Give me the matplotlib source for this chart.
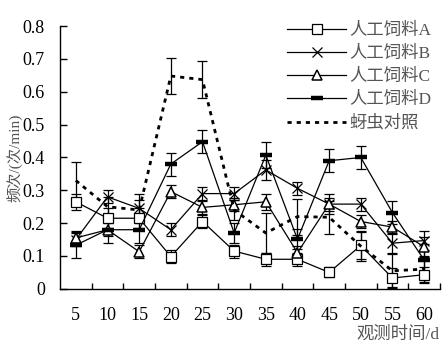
import matplotlib
matplotlib.use("Agg")
import matplotlib.pyplot as plt

plt.rcParams['font.family'] = ['Liberation Serif', 'Noto Sans CJK SC']

days = [5, 10, 15, 20, 25, 30, 35, 40, 45, 50, 55, 60]

feed_a = [0.265, 0.215, 0.215, 0.098, 0.205, 0.115, 0.09, 0.09, 0.05, 0.132, 0.033, 0.043]
feed_a_err = [0.025, 0.03, 0.03, 0.02, 0.02, 0.02, 0.02, 0.02, 0.015, 0.04, 0.03, 0.025]

feed_b = [0.15, 0.28, 0.245, 0.18, 0.29, 0.29, 0.362, 0.306, 0.258, 0.258, 0.139, 0.147]
feed_b_err = [0.02, 0.02, 0.045, 0.02, 0.02, 0.02, 0.03, 0.02, 0.03, 0.02, 0.03, 0.03]

feed_c = [0.155, 0.18, 0.113, 0.296, 0.248, 0.256, 0.265, 0.11, 0.258, 0.205, 0.188, 0.128]
feed_c_err = [0.02, 0.02, 0.02, 0.02, 0.02, 0.02, 0.025, 0.02, 0.02, 0.02, 0.02, 0.03]

feed_d = [0.133, 0.18, 0.18, 0.38, 0.448, 0.17, 0.407, 0.151, 0.39, 0.40, 0.232, 0.088]
feed_d_err = [0.04, 0.04, 0.04, 0.035, 0.035, 0.03, 0.04, 0.03, 0.035, 0.035, 0.035, 0.05]

control = [0.33, 0.25, 0.24, 0.648, 0.637, 0.24, 0.17, 0.22, 0.218, 0.13, 0.055, 0.06]
control_err = [0.055, 0.03, 0.03, 0.055, 0.057, 0.03, 0.06, 0.055, 0.05, 0.045, 0.05, 0.04]

labels = ["人工饲料A", "人工饲料B", "人工饲料C", "人工饲料D", "蚜虫对照"]

fig = plt.figure(figsize=(4.48, 3.48), dpi=100)
ax = fig.add_axes([0.134, 0.170, 0.848, 0.755])

# error bars first, without lines
for vals, errs in [(feed_a, feed_a_err), (feed_b, feed_b_err), (feed_c, feed_c_err),
                   (feed_d, feed_d_err), (control, control_err)]:
    ax.errorbar(days, vals, yerr=errs, fmt="none", ecolor="black",
                elinewidth=0.9, capsize=3.8, capthick=0.9)

ax.plot(days, feed_a, color="black", lw=0.9, marker="s", ms=7,
        mfc="white", mec="black", mew=0.9, label=labels[0])
ax.plot(days, feed_b, color="black", lw=0.9, marker="x", ms=7.5,
        mew=0.9, label=labels[1])
ax.plot(days, feed_c, color="black", lw=0.9, marker="^", ms=7,
        mfc="white", mec="black", mew=1.1, label=labels[2])
ax.plot(days, feed_d, color="black", lw=0.9, marker="_", ms=8,
        mew=3.2, label=labels[3])
ax.plot(days, control, color="black", lw=2, ls=(0, (1.5, 1.8)), label=labels[4])

ax.set_xlim(2.5, 62.5)
ax.set_ylim(0, 0.8)
ax.set_xticks(days)
ax.set_xticks([d + 2.5 for d in days], minor=True)
ax.tick_params(axis="x", which="major", length=0, pad=13, labelsize=13)
ax.tick_params(axis="x", which="minor", direction="in", length=4, width=1)
ax.set_yticks([i / 10 for i in range(9)])
ax.set_yticklabels(["0"] + ["%.1f" % (i / 10) for i in range(1, 9)])
ax.tick_params(axis="y", direction="in", length=5, width=1, pad=11, labelsize=13)

for s in ["top", "right"]:
    ax.spines[s].set_visible(False)
for s in ["left", "bottom"]:
    ax.spines[s].set_linewidth(1.0)

ax.set_ylabel("频次/(次/min)", fontsize=11, color="#555555")
ax.yaxis.set_label_coords(-0.1, 0.5)
ax.set_xlabel("观测时间/d", fontsize=12.5, color="#555555", loc="right", labelpad=2)

leg = ax.legend(loc="upper left", bbox_to_anchor=(0.575, 1.045), frameon=False,
                handlelength=3.4, handletextpad=0.2, labelspacing=0.4,
                borderpad=0, fontsize=12.5)
for t in leg.get_texts():
    t.set_color("#555555")

fig.savefig("out.png", dpi=100)
